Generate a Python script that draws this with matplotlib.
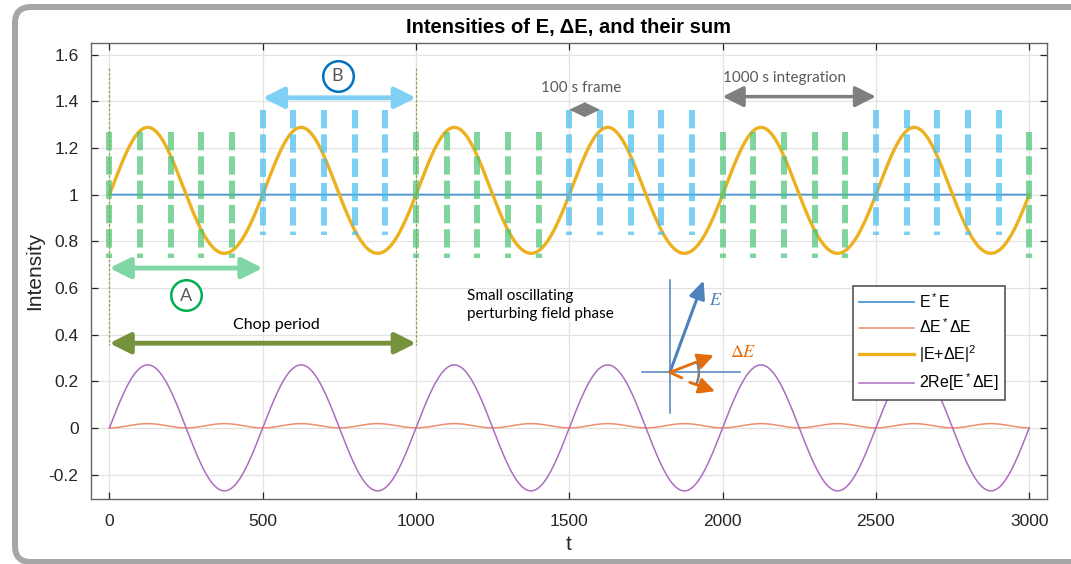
import numpy as np
import matplotlib
matplotlib.use('Agg')
import matplotlib.pyplot as plt
from matplotlib.patches import FancyBboxPatch, Arc
from matplotlib.transforms import Affine2D, ScaledTranslation

plt.rcParams['font.family'] = ['Liberation Sans', 'DejaVu Sans']
plt.rcParams['mathtext.fontset'] = 'custom'
plt.rcParams['mathtext.rm'] = 'Liberation Sans'
plt.rcParams['mathtext.it'] = 'Liberation Sans:italic'
plt.rcParams['lines.scale_dashes'] = False

# values
t_range = [0, 3000]
period = 500          # oscillation period of the perturbing field
dE_amp = 0.135        # 2Re[E*dE] peaks at ~0.27, |E+dE|^2 spans 0.75..1.29
E_amp = 1.0

green_frames = [0, 100, 200, 300, 400, 1000, 1100, 1200, 1300, 1400,
                2000, 2100, 2200, 2300, 2400, 3000]
blue_frames = [500, 600, 700, 800, 900, 1500, 1600, 1700, 1800, 1900,
               2500, 2600, 2700, 2800, 2900]
green_span = [0.728, 1.269]
blue_span = [0.827, 1.364]

xticks = [0, 500, 1000, 1500, 2000, 2500, 3000]
yticks = [-0.2, 0, 0.2, 0.4, 0.6, 0.8, 1, 1.2, 1.4, 1.6]
ytick_labels = ['-0.2', '0', '0.2', '0.4', '0.6', '0.8', '1', '1.2', '1.4', '1.6']

t = np.linspace(t_range[0], t_range[1], 1501)
E = E_amp * np.ones_like(t)
dE = dE_amp * np.sin(2 * np.pi * t / period)

W, H = 1071, 564
fig = plt.figure(figsize=(W / 100, H / 100), dpi=100)
ax = fig.add_axes([0.085, 0.1152, 0.8923, 0.8086])

ax.plot(t, E * E, color='#4a97d6', lw=1.3, label=r'E$^*$E')
ax.plot(t, dE * dE, color='#ef8e6e', lw=1.1, label=r'ΔE$^*$ΔE')
ax.plot(t, (E + dE) ** 2, color='#edb120', lw=2.4, label=r'|E+ΔE|$^2$')
ax.plot(t, 2 * E * dE, color='#ae6cc0', lw=1.1, label=r'2Re[E$^*$ΔE]')

# frame markers
for f in green_frames:
    ax.plot([f, f], [green_span[1], green_span[0]], color='#4ac477', alpha=0.7,
            lw=4.3, dashes=(13.2, 4.3), solid_capstyle='butt',
            dash_capstyle='butt', zorder=4)
for f in blue_frames:
    ax.plot([f, f], [blue_span[1], blue_span[0]], color='#45bcee', alpha=0.7,
            lw=4.3, dashes=(13.2, 4.3), solid_capstyle='butt',
            dash_capstyle='butt', zorder=4)

ax.set_xlim(-60, 3057)
ax.set_ylim(-0.305, 1.65)
ax.set_xticks(xticks)
ax.set_yticks(yticks)
ax.set_yticklabels(ytick_labels)
ax.tick_params(direction='in', length=5, width=0.9, top=True, right=True,
               labelsize=12.5, colors='#262626')
ax.tick_params(axis='x', pad=11)
ax.tick_params(axis='y', pad=9)
ax.grid(True, color='#e3e3e3', lw=0.9)
ax.set_axisbelow(True)
for s in ax.spines.values():
    s.set_color('#666666')
    s.set_linewidth(1.0)

ax.set_title('Intensities of E, ΔE, and their sum', fontsize=14.5, fontweight='bold',
             pad=7)
ax.set_xlabel('t', fontsize=15, color='#262626', labelpad=4)
ax.set_ylabel('Intensity', fontsize=15, color='#262626', labelpad=3)

leg = ax.legend(loc='upper left', bbox_to_anchor=(0.789, 0.485), fontsize=11.5,
                handlelength=3.4, labelspacing=0.42, fancybox=False,
                borderpad=0.4, handletextpad=0.3, framealpha=1)
leg.get_frame().set_edgecolor('#555555')
leg.get_frame().set_linewidth(1.2)


def arrow2(x0, x1, y, color, lw, ms, hl=0.9, hw=0.45):
    ax.annotate('', xy=(x1, y), xytext=(x0, y),
                arrowprops=dict(arrowstyle='<|-|>,head_length=%g,head_width=%g' % (hl, hw),
                                color=color, lw=lw, mutation_scale=ms,
                                shrinkA=0, shrinkB=0), zorder=6)


ann_font = ['Lato', 'DejaVu Sans']

# chop period
for x in [0, 1000]:
    ax.plot([x, x], [1.544, 0.354], color='#8aa64c', lw=0.9, ls=(0, (2, 1.2)), zorder=5)
arrow2(0, 1000, 0.363, '#76923c', 3.5, 14)
ax.text(545, 0.44, 'Chop period', ha='center', va='center', fontsize=11.5,
        family=ann_font, color='black')

# A and B
arrow2(0, 500, 0.685, '#80d6a4', 3.5, 14)
arrow2(500, 1000, 1.415, '#7fd0f4', 3.5, 14)
ax.plot([251], [0.569], 'o', ms=22, mfc='white', mec='#00b050', mew=1.8, zorder=6)
ax.text(251, 0.566, 'A', ha='center', va='center', fontsize=13, family=ann_font,
        color='#595959', zorder=7)
ax.plot([744], [1.51], 'o', ms=22, mfc='white', mec='#0070c0', mew=1.8, zorder=6)
ax.text(744, 1.507, 'B', ha='center', va='center', fontsize=13, family=ann_font,
        color='#595959', zorder=7)

# frame / integration
arrow2(1500, 1600, 1.364, '#7f7f7f', 0.5, 14, hl=0.75, hw=0.36)
ax.text(1540, 1.458, '100 s frame', ha='center', va='center', fontsize=11,
        family=ann_font, color='#595959')
arrow2(2000, 2500, 1.42, '#7f7f7f', 2.5, 14)
ax.text(2203, 1.50, '1000 s integration', ha='center', va='center', fontsize=11,
        family=ann_font, color='#595959')

ax.text(1165, 0.526, 'Small oscillating\nperturbing field phase', ha='left',
        va='center', fontsize=11, family=ann_font, color='black', linespacing=1.35)

# phasor sketch
o = (1828, 0.238)
ax.plot([1736, 2056], [o[1], o[1]], color='#4f81bd', lw=1.1, zorder=5)
ax.plot([o[0], o[0]], [0.633, 0.062], color='#4f81bd', lw=1.1, zorder=5)
ax.annotate('', xy=(1938, 0.632), xytext=o,
            arrowprops=dict(arrowstyle='-|>,head_length=0.9,head_width=0.4',
                            color='#4f81bd', lw=2.2, mutation_scale=12,
                            shrinkA=0, shrinkB=0), zorder=6)
ax.text(1978, 0.548, '$E$', ha='center', va='center', fontsize=13,
        color='#4f81bd', math_fontfamily='stix')
ax.annotate('', xy=(1971, 0.311), xytext=o,
            arrowprops=dict(arrowstyle='-|>,head_length=0.8,head_width=0.4',
                            color='#e46c0a', lw=2.0, mutation_scale=12,
                            shrinkA=0, shrinkB=0), zorder=6)
ax.plot([o[0], 1870], [o[1], 0.2125], color='#e46c0a', lw=2.0,
        solid_capstyle='butt', zorder=6)
ax.annotate('', xy=(1975, 0.157), xytext=(1893, 0.195),
            arrowprops=dict(arrowstyle='-|>,head_length=0.8,head_width=0.4',
                            color='#e46c0a', lw=2.0, mutation_scale=12,
                            shrinkA=0, shrinkB=0), zorder=6)
ax.text(2066, 0.324, r'$\Delta E$', ha='center', va='center', fontsize=13,
        color='#e46c0a', math_fontfamily='stix')
# angle bracket between the two dE arrows, sized in pixels around the origin
arc_trans = ScaledTranslation(o[0], o[1], ax.transData)
ax.add_patch(Arc((0, 0), 58, 58, angle=-24, theta1=0, theta2=44, color='#7f7f7f',
                 lw=1.8, zorder=7, transform=arc_trans))

# rounded slide border
px = Affine2D().scale(1 / W, 1 / H) + fig.transFigure
fig.patches.append(FancyBboxPatch((15, 2), W + 40, 555,
                                  boxstyle='round,pad=0,rounding_size=16',
                                  transform=px, fill=False, ec='#a6a6a6', lw=4.3))

fig.savefig('out.png', dpi=100)
